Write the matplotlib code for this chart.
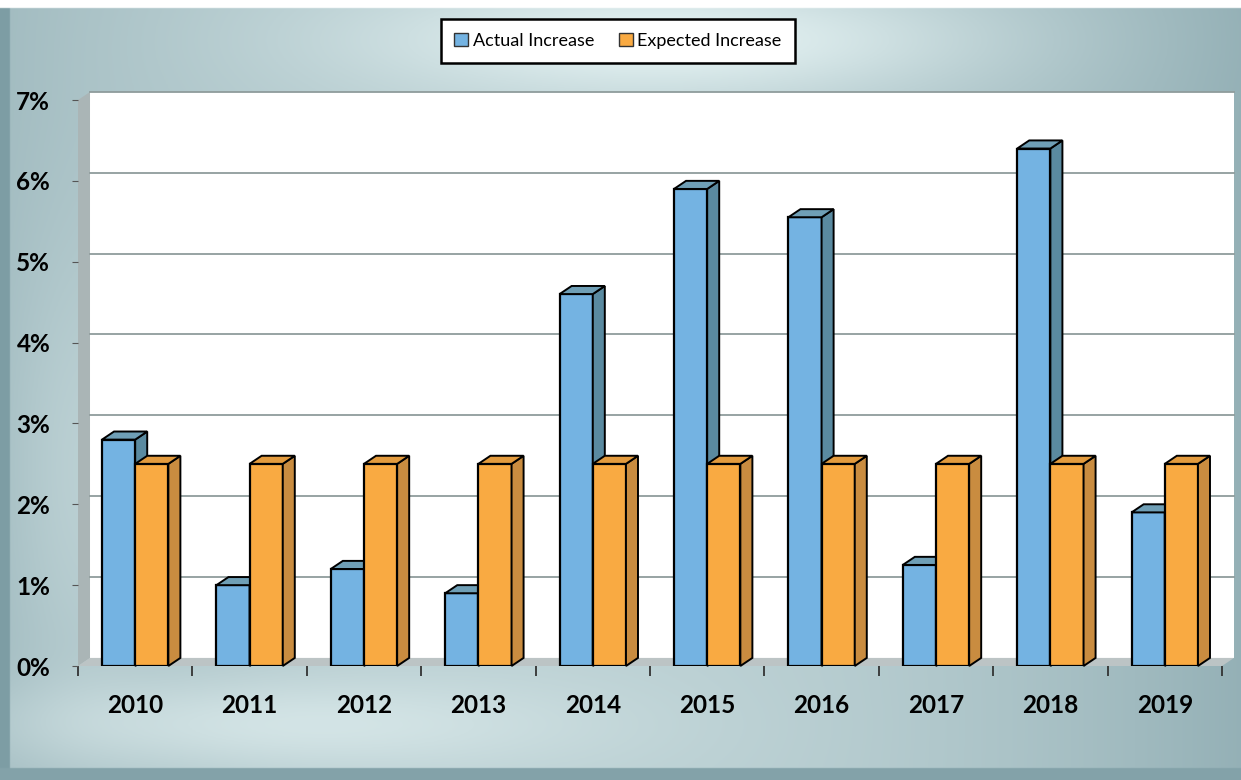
import numpy as np
import matplotlib.pyplot as plt
from matplotlib.patches import Polygon, Rectangle, Patch

# chart data
years = ['2010', '2011', '2012', '2013', '2014', '2015', '2016', '2017', '2018', '2019']
actual = [2.8, 1.0, 1.2, 0.9, 4.6, 5.9, 5.55, 1.25, 6.4, 1.9]
expected = [2.5, 2.5, 2.5, 2.5, 2.5, 2.5, 2.5, 2.5, 2.5, 2.5]
y_ticks = [0, 1, 2, 3, 4, 5, 6, 7]
y_labels = ['0%', '1%', '2%', '3%', '4%', '5%', '6%', '7%']

# colours (front, side, top)
BLUE = ('#74b3e2', '#5a8aa0', '#6f9fb6')
ORANGE = ('#f9aa42', '#c98c40', '#e39b3e')

W = 0.29      # bar width
DX = 0.105    # depth offset in x (data units)
DY = 0.10     # depth offset in y (data units)

plt.rcParams['font.family'] = ['Lato', 'DejaVu Sans']

fig = plt.figure(figsize=(12.41, 7.8), dpi=100)

# gradient background (scanned teal frame), row 0 = top of figure
bg = fig.add_axes([0, 0, 1, 1], zorder=-5)
gx, gy = np.meshgrid(np.linspace(0, 1, 620), np.linspace(0, 1, 390))
dark = 0.4 + np.clip(np.abs(gx - 0.45) * 1.7, 0, 1) ** 2 * 0.4
dark -= 0.35 * np.exp(-((gy - 0.05) / 0.07) ** 2) * np.exp(-((gx - 0.55) / 0.25) ** 2)
dark -= 0.25 * np.exp(-((gy - 0.93) / 0.06) ** 2) * np.exp(-((gx - 0.2) / 0.25) ** 2)
dark -= 0.15 * np.exp(-((gy - 0.6) / 0.3) ** 2) * np.exp(-((gx - 0.06) / 0.06) ** 2)
dark = np.where(gx < 0.008, 0.95, dark)
dark = np.where(gy > 0.985, 0.9, dark)
dark = np.clip(dark, 0, 1)
light = np.array([0.92, 0.97, 0.97])
darkc = np.array([0.47, 0.60, 0.63])
img = light[None, None, :] * (1 - dark[..., None]) + darkc[None, None, :] * dark[..., None]
img[gy < 0.01] = 1.0
bg.imshow(img, extent=[0, 1, 0, 1], aspect='auto', origin='upper')
bg.set_xlim(0, 1)
bg.set_ylim(0, 1)
bg.axis('off')

ax = fig.add_axes([78 / 1241, 114 / 780, (1222 - 78) / 1241, (666 - 100) / 780])
ax.set_xlim(-0.5, 9.5)
ax.set_ylim(0, 7)
ax.patch.set_alpha(0)
for s in ax.spines.values():
    s.set_visible(False)

x = np.arange(len(years))
x0, x1 = -0.5, len(years) - 0.5
top = y_ticks[-1]

# walls and floor
ax.add_patch(Rectangle((x0 + DX, DY), x1 - x0, top, facecolor='white', edgecolor='none',
                       zorder=0, clip_on=False))
ax.add_patch(Polygon([(x0, 0), (x0 + DX, DY), (x0 + DX, top + DY), (x0, top)],
                     facecolor='#aab5b6', edgecolor='none', zorder=0, clip_on=False))
ax.add_patch(Polygon([(x0, 0), (x1, 0), (x1 + DX, DY), (x0 + DX, DY)],
                     facecolor='#bcc4c5', edgecolor='none', zorder=0, clip_on=False))
for v in y_ticks[1:]:
    ax.plot([x0 + DX, x1 + DX], [v + DY, v + DY], color='#8f9c9c', lw=1.3, zorder=1, clip_on=False)


def bar3d(xs, vals, cols, z):
    ax.bar(xs, vals, W, color=cols[0], edgecolor='black', linewidth=1.6, zorder=z)
    for xc, v in zip(xs, vals):
        l, r = xc - W / 2, xc + W / 2
        ax.add_patch(Polygon([(r, 0), (r + DX, DY), (r + DX, v + DY), (r, v)],
                             facecolor=cols[1], edgecolor='black', lw=1.4, zorder=z, clip_on=False))
        ax.add_patch(Polygon([(l, v), (r, v), (r + DX, v + DY), (l + DX, v + DY)],
                             facecolor=cols[2], edgecolor='black', lw=1.4, zorder=z, clip_on=False))


bar3d(x - W / 2, actual, BLUE, 2)
bar3d(x + W / 2, expected, ORANGE, 3)

# axes ticks
ax.set_yticks(y_ticks)
ax.set_yticklabels(y_labels, fontsize=17.5, fontweight='bold')
ax.tick_params(axis='y', length=4, pad=16, color='#555555')
ax.set_xticks(np.arange(x0, x1 + 0.01, 1))
ax.set_xticklabels([])
ax.set_xticks(x, minor=True)
ax.set_xticklabels(years, minor=True, fontsize=17.5, fontweight='bold')
ax.tick_params(axis='x', which='major', length=7, width=1.3, color='#333333')
ax.tick_params(axis='x', which='minor', length=0, pad=20)

handles = [Patch(facecolor=BLUE[0], edgecolor='#333333', label='Actual Increase'),
           Patch(facecolor=ORANGE[0], edgecolor='#333333', label='Expected Increase')]
leg = fig.legend(handles=handles, loc='center', bbox_to_anchor=(618 / 1241, 1 - 41 / 780),
                 ncol=2, fontsize=13, frameon=True, fancybox=False, handlelength=0.75,
                 handleheight=0.75, handletextpad=0.25, columnspacing=1.4,
                 borderpad=0.75, borderaxespad=0)
leg.get_frame().set_edgecolor('black')
leg.get_frame().set_linewidth(1.8)
leg.get_frame().set_alpha(1)

fig.savefig('out.png', dpi=100)
